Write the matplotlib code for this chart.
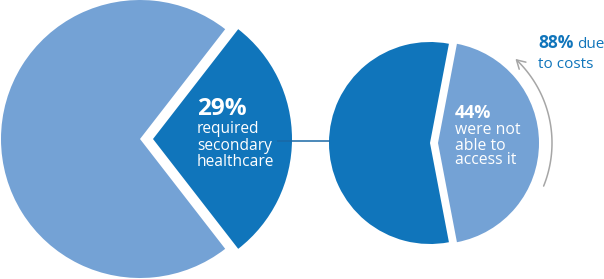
import numpy as np
import matplotlib
matplotlib.use("Agg")
import matplotlib.pyplot as plt
from matplotlib.patches import FancyArrowPatch
from matplotlib.path import Path

# Data
first_share = [29, 71]          # required secondary healthcare vs rest
second_share = [44, 56]         # not able to access it vs rest
cost_share = 88
first_labels = ["required", "secondary", "healthcare"]
second_labels = ["were not", "able to", "access it"]

DARK = "#1075bb"
LIGHT = "#74a2d5"
W, H = 604, 279

plt.rcParams['font.family'] = ['Open Sans', 'DejaVu Sans']

fig = plt.figure(figsize=(W / 100, H / 100), dpi=100)
ax = fig.add_axes([0, 0, 1, 1])

# big pie, 29% slice pulled out to the right (explode is in data units here)
ax.pie(first_share, colors=[DARK, LIGHT], startangle=-first_share[0] * 3.6 / 2,
       explode=[13, 0], center=(140, H - 139), radius=139,
       wedgeprops=dict(linewidth=0))

# small pie, 44% slice pulled out to the right
ax.pie(second_share, colors=[LIGHT, DARK], startangle=-second_share[0] * 3.6 / 2,
       explode=[8, 0], center=(430, H - 143), radius=101,
       wedgeprops=dict(linewidth=0))

# connector between the two pies
ax.plot([277, 330], [H - 141, H - 141], color="#1a68a6", lw=1.1, solid_capstyle="butt")

# curved arrow around the 44% slice
t = np.radians(np.linspace(-22, 47, 60))
cx, cy, r = 437, H - 143, 115
arc = Path(np.column_stack([cx + r * np.cos(t), cy + r * np.sin(t)]))
ax.add_patch(FancyArrowPatch(path=arc, arrowstyle="->,head_length=6,head_width=3.5",
                             color="#a6a6a6", lw=1.1, mutation_scale=1))

# labels
ax.text(197, H - 115, f"{first_share[0]}%", color="white", fontsize=17.5,
        fontweight="bold", va="baseline", ha="left")
for i, s in enumerate(first_labels):
    ax.text(197, H - 133 - 16.5 * i, s, color="white", fontsize=11.2,
            va="baseline", ha="left")

ax.text(455, H - 118, f"{second_share[0]}%", color="white", fontsize=13,
        fontweight="bold", va="baseline", ha="left")
for i, s in enumerate(second_labels):
    ax.text(455, H - 134.5 - 15 * i, s, color="white", fontsize=11.3,
            va="baseline", ha="left")

ax.text(538, H - 48, f"{cost_share}%", color=DARK, fontsize=12.5,
        fontweight="bold", va="baseline", ha="left")
ax.text(577, H - 48, "due", color=DARK, fontsize=11, va="baseline", ha="left")
ax.text(538, H - 68, "to costs", color=DARK, fontsize=11, va="baseline", ha="left")

ax.set_xlim(0, W)
ax.set_ylim(0, H)
ax.set_aspect("equal")
ax.axis("off")

fig.savefig("out.png", dpi=100)
